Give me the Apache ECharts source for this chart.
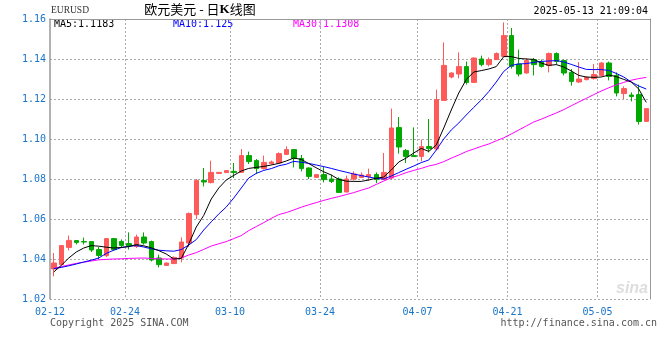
<!DOCTYPE html>
<html><head><meta charset="utf-8">
<script src="https://cdn.jsdelivr.net/npm/echarts@6/dist/echarts.min.js"></script>
<style>html,body{margin:0;padding:0;background:#fff}#c{width:660px;height:360px}</style>
</head><body><div id="c"></div>
<script>
// ---- data ----
const dates = [
 '02-12','02-13','02-14','02-15','02-17','02-18','02-19','02-20','02-21','02-22',
 '02-24','02-25','02-26','02-27','02-28','03-01','03-02','03-03','03-04','03-05',
 '03-06','03-07','03-08','03-09','03-10','03-11','03-12','03-13','03-14','03-15',
 '03-17','03-18','03-19','03-20','03-21','03-22','03-24','03-25','03-26','03-27',
 '03-28','03-29','03-31','04-01','04-02','04-03','04-04','04-05','04-06','04-07',
 '04-08','04-09','04-10','04-11','04-12','04-14','04-15','04-16','04-17','04-18',
 '04-19','04-21','04-22','04-23','04-24','04-25','04-26','04-28','04-29','04-30',
 '05-01','05-02','05-03','05-05','05-06','05-07','05-08','05-09','05-12','05-13'
];
const labelDates = ['02-12','02-24','03-10','03-24','04-07','04-21','05-05'];

const opens = [
 1.0350,1.0372,1.0458,1.0492,1.0487,1.0487,1.0447,1.0417,1.0502,1.0488,
 1.0477,1.0463,1.0510,1.0487,1.0405,1.0368,1.0377,1.0405,1.0480,1.0622,
 1.0792,1.0782,1.0828,1.0832,1.0838,1.0833,1.0917,1.0892,1.0852,1.0877,
 1.0880,1.0923,1.0947,1.0903,1.0855,1.0808,1.0822,1.0800,1.0800,1.0735,
 1.0800,1.0808,1.0812,1.0822,1.0797,1.0805,1.1057,1.0942,1.0917,1.0913,
 1.0962,1.0950,1.1193,1.1310,1.1325,1.1362,1.1283,1.1400,1.1372,1.1397,
 1.1413,1.1517,1.1375,1.1330,1.1397,1.1385,1.1367,1.1427,1.1392,1.1333,
 1.1285,1.1297,1.1302,1.1318,1.1380,1.1318,1.1227,1.1220,1.1222,1.1088
];
const closes = [
 1.0380,1.0467,1.0493,1.0483,1.0485,1.0445,1.0418,1.0502,1.0447,1.0468,
 1.0467,1.0510,1.0480,1.0395,1.0372,1.0380,1.0408,1.0485,1.0627,1.0792,
 1.0785,1.0833,1.0833,1.0842,1.0833,1.0917,1.0887,1.0852,1.0883,1.0885,
 1.0927,1.0947,1.0903,1.0852,1.0813,1.0822,1.0797,1.0788,1.0733,1.0800,
 1.0825,1.0820,1.0822,1.0797,1.0833,1.1055,1.0960,1.0913,1.0912,1.0962,
 1.0952,1.1197,1.1368,1.1330,1.1362,1.1283,1.1405,1.1372,1.1397,1.1427,
 1.1517,1.1363,1.1325,1.1392,1.1372,1.1363,1.1427,1.1388,1.1330,1.1288,
 1.1300,1.1308,1.1322,1.1380,1.1313,1.1230,1.1252,1.1213,1.1088,1.1152
];
const lows = [
 1.0313,1.0368,1.0443,1.0473,1.0473,1.0435,1.0400,1.0410,1.0442,1.0460,
 1.0447,1.0455,1.0472,1.0388,1.0358,1.0365,1.0375,1.0383,1.0460,1.0600,
 1.0763,1.0778,1.0826,1.0830,1.0805,1.0830,1.0875,1.0825,1.0847,1.0872,
 1.0877,1.0920,1.0858,1.0838,1.0800,1.0808,1.0783,1.0780,1.0733,1.0733,
 1.0792,1.0805,1.0790,1.0780,1.0795,1.0797,1.0927,1.0880,1.0912,1.0888,
 1.0933,1.0943,1.1193,1.1303,1.1303,1.1272,1.1283,1.1363,1.1363,1.1397,
 1.1413,1.1352,1.1313,1.1327,1.1318,1.1357,1.1333,1.1372,1.1318,1.1267,
 1.1280,1.1293,1.1297,1.1313,1.1293,1.1213,1.1200,1.1188,1.1072,1.1088
];
const highs = [
 1.0430,1.0469,1.0517,1.0494,1.0507,1.0490,1.0460,1.0505,1.0505,1.0498,
 1.0533,1.0522,1.0533,1.0492,1.0422,1.0382,1.0413,1.0508,1.0633,1.0800,
 1.0855,1.0892,1.0835,1.0843,1.0880,1.0950,1.0937,1.0900,1.0917,1.0892,
 1.0933,1.0963,1.0950,1.0920,1.0858,1.0822,1.0863,1.0822,1.0808,1.0817,
 1.0838,1.0833,1.0852,1.0833,1.0930,1.1152,1.1110,1.0950,1.1058,1.0997,
 1.1100,1.1247,1.1483,1.1333,1.1433,1.1387,1.1408,1.1417,1.1408,1.1433,
 1.1583,1.1555,1.1447,1.1405,1.1405,1.1397,1.1433,1.1433,1.1397,1.1350,
 1.1385,1.1313,1.1375,1.1385,1.1387,1.1333,1.1263,1.1233,1.1272,1.1152
];
const ma5 = [
 1.0335,1.0368,1.0405,1.0435,1.0455,1.0467,1.0464,1.0459,1.0455,1.0458,
 1.0462,1.0472,1.0466,1.0456,1.0442,1.0425,1.0400,1.0403,1.0475,1.0560,
 1.0618,1.0700,1.0755,1.0795,1.0818,1.0840,1.0853,1.0858,1.0863,1.0870,
 1.0878,1.0890,1.0905,1.0898,1.0877,1.0856,1.0836,1.0820,1.0798,1.0789,
 1.0788,1.0788,1.0795,1.0804,1.0810,1.0845,1.0885,1.0905,1.0930,1.0953,
 1.0938,1.0970,1.1055,1.1145,1.1230,1.1297,1.1335,1.1342,1.1350,1.1362,
 1.1412,1.1412,1.1403,1.1400,1.1398,1.1380,1.1368,1.1372,1.1360,1.1340,
 1.1318,1.1310,1.1308,1.1310,1.1320,1.1312,1.1298,1.1285,1.1250,1.1183
];
const ma10 = [
 1.0352,1.0358,1.0366,1.0375,1.0385,1.0394,1.0405,1.0428,1.0444,1.0457,
 1.0463,1.0467,1.0460,1.0451,1.0444,1.0441,1.0439,1.0447,1.0470,1.0497,
 1.0545,1.0586,1.0625,1.0660,1.0705,1.0755,1.0805,1.0828,1.0843,1.0852,
 1.0866,1.0874,1.0888,1.0884,1.0878,1.0870,1.0862,1.0853,1.0843,1.0834,
 1.0825,1.0817,1.0810,1.0803,1.0800,1.0815,1.0832,1.0849,1.0865,1.0882,
 1.0895,1.0945,1.1000,1.1045,1.1080,1.1120,1.1158,1.1195,1.1237,1.1285,
 1.1338,1.1368,1.1375,1.1377,1.1383,1.1388,1.1390,1.1392,1.1385,1.1373,
 1.1360,1.1348,1.1347,1.1347,1.1343,1.1328,1.1310,1.1285,1.1265,1.1250
];
const ma30 = [
 1.0353,1.0362,1.0370,1.0378,1.0384,1.0390,1.0396,1.0398,1.0400,1.0401,
 1.0403,1.0404,1.0405,1.0403,1.0401,1.0400,1.0400,1.0405,1.0420,1.0432,
 1.0448,1.0465,1.0476,1.0487,1.0502,1.0517,1.0542,1.0562,1.0582,1.0603,
 1.0622,1.0632,1.0645,1.0659,1.0671,1.0682,1.0693,1.0703,1.0712,1.0722,
 1.0732,1.0744,1.0755,1.0773,1.0790,1.0806,1.0818,1.0832,1.0843,1.0853,
 1.0865,1.0873,1.0887,1.0904,1.0920,1.0937,1.0950,1.0963,1.0975,1.0991,
 1.1006,1.1025,1.1045,1.1065,1.1085,1.1099,1.1115,1.1130,1.1147,1.1166,
 1.1185,1.1203,1.1222,1.1240,1.1256,1.1271,1.1283,1.1294,1.1302,1.1308
];
const maLabels = ['MA5:1.1183', 'MA10:1.125', 'MA30:1.1308'];
const yMin = 1.02, yMax = 1.16, yStep = 0.02;
const stamp = '2025-05-13 21:09:04';

// ---- chart ----
const candles = opens.map((o, i) => [o, closes[i], lows[i], highs[i]]);
const MONO = "'DejaVu Sans Mono', monospace";
const BLUE_TXT = '#1a74c8';
const GRID = '#aaaaaa';
const chart = echarts.init(document.getElementById('c'), null, {renderer: 'canvas'});
const isLabel = (i, v) => labelDates.indexOf(v) >= 0;

chart.setOption({
  animation: false,
  backgroundColor: '#fff',
  grid: {left: 50, right: 10, top: 19, bottom: 61, show: false},
  xAxis: [{
    type: 'category', data: dates, boundaryGap: true, gridIndex: 0,
    axisLine: {show: false}, axisTick: {show: false},
    axisLabel: {interval: isLabel, color: BLUE_TXT, fontFamily: MONO, fontSize: 10,
      margin: 8, padding: [0, 7.5, 0, 0]},
    splitLine: {show: true, interval: (i, v) => i > 0 && isLabel(i, v),
      lineStyle: {color: GRID, type: [2, 2], width: 1}}
  }, {
    type: 'category', data: dates, position: 'top', gridIndex: 0,
    axisLine: {show: true, lineStyle: {color: '#999', width: 1}},
    axisTick: {show: false}, axisLabel: {show: false}, splitLine: {show: false}
  }],
  yAxis: [{
    type: 'value', min: yMin, max: yMax, interval: yStep, position: 'left',
    axisLine: {show: true, lineStyle: {color: '#999', width: 1.5}},
    axisTick: {show: false},
    axisLabel: {formatter: v => v.toFixed(2), color: BLUE_TXT, fontFamily: MONO,
      fontSize: 10, margin: 4, padding: [0, 0, 5, 0]},
    splitLine: {show: true, lineStyle: {color: GRID, type: [2, 2], width: 1}}
  }, {
    type: 'value', min: yMin, max: yMax, interval: yStep, position: 'right',
    axisLine: {show: true, lineStyle: {color: '#999', width: 1}},
    axisTick: {show: false}, axisLabel: {show: false}, splitLine: {show: false}
  }],
  series: [{
    type: 'candlestick', data: candles, barWidth: 5, z: 2,
    itemStyle: {color: '#ff5a5a', color0: '#00a800', borderColor: '#ff5a5a',
      borderColor0: '#00a800', borderWidth: 1}
  }, {
    type: 'line', data: ma30, showSymbol: false, z: 3,
    lineStyle: {color: '#ff00ff', width: 1}
  }, {
    type: 'line', data: ma10, showSymbol: false, z: 4,
    lineStyle: {color: '#0000ff', width: 1}
  }, {
    type: 'line', data: ma5, showSymbol: false, z: 5,
    lineStyle: {color: '#000000', width: 1}
  }],
  graphic: [
    {type: 'text', left: 51, top: 5, style: {text: 'EURUSD', font: "9.5px 'Liberation Serif'", fill: '#333'}},
    {type: 'text', x: 200, y: 3, style: {
      text: '欧元美元 - 日{k|K}线图', textAlign: 'center',
      font: "13px 'Noto Sans CJK SC'", fill: '#000',
      rich: {k: {fontFamily: "'Liberation Serif'", fontWeight: 'bold', fontSize: 13}}}},
    {type: 'text', x: 648, y: 6, style: {text: stamp, textAlign: 'right', font: "10px " + MONO, fill: '#000'}},
    {type: 'text', x: 54, y: 19, style: {text: maLabels[0], font: "10px " + MONO, fill: '#000'}},
    {type: 'text', x: 173, y: 19, style: {text: maLabels[1], font: "10px " + MONO, fill: '#0000ff'}},
    {type: 'text', x: 293, y: 19, style: {text: maLabels[2], font: "10px " + MONO, fill: '#ff00ff'}},
    {type: 'text', x: 616, y: 281, style: {text: 'sina', font: "italic bold 16px 'Liberation Sans'", fill: '#dddddd'}},
    {type: 'text', x: 50, y: 318, style: {text: 'Copyright 2025 SINA.COM', font: "10px " + MONO, fill: '#555'}},
    {type: 'text', x: 657, y: 318, style: {text: 'http://finance.sina.com.cn', textAlign: 'right', font: "10px " + MONO, fill: '#555'}}
  ]
});
</script></body></html>
